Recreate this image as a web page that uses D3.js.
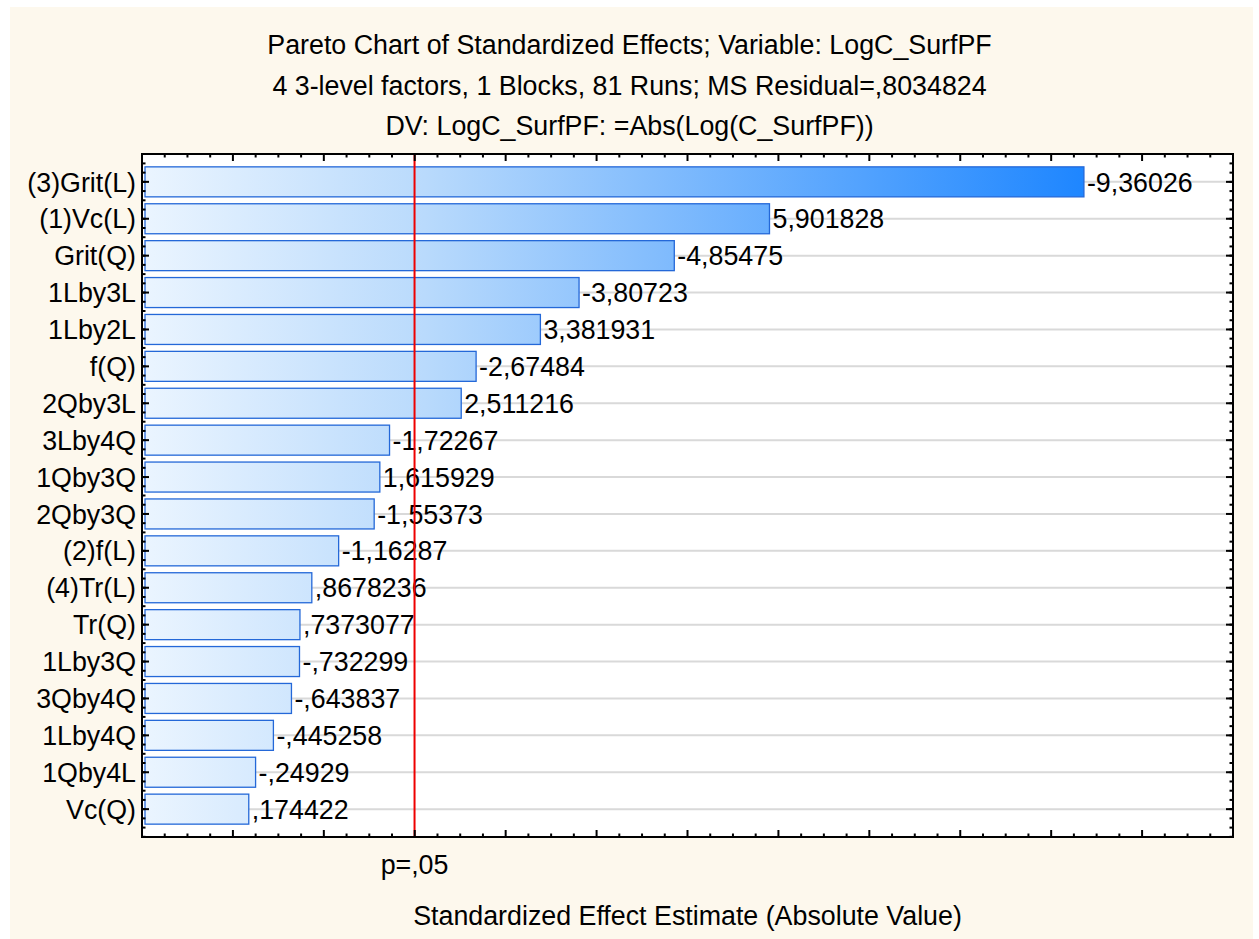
<!DOCTYPE html>
<html><head><meta charset="utf-8">
<script src="https://cdn.jsdelivr.net/npm/d3@7"></script>
<style>body{margin:0;background:#fff}svg{display:block}text{font-family:"Liberation Sans",Arial,sans-serif;fill:#000}</style>
</head><body>
<script>
const titleLines = [
  "Pareto Chart of Standardized Effects; Variable: LogC_SurfPF",
  "4 3-level factors, 1 Blocks, 81 Runs; MS Residual=,8034824",
  "DV: LogC_SurfPF: =Abs(Log(C_SurfPF))"
];
const categories = ["(3)Grit(L)","(1)Vc(L)","Grit(Q)","1Lby3L","1Lby2L","f(Q)","2Qby3L","3Lby4Q","1Qby3Q","2Qby3Q","(2)f(L)","(4)Tr(L)","Tr(Q)","1Lby3Q","3Qby4Q","1Lby4Q","1Qby4L","Vc(Q)"];
const effects = [9.36026,5.901828,4.85475,3.80723,3.381931,2.67484,2.511216,1.72267,1.615929,1.55373,1.16287,0.8678236,0.7373077,0.732299,0.643837,0.445258,0.24929,0.174422];
const effectLabels = ["-9,36026","5,901828","-4,85475","-3,80723","3,381931","-2,67484","2,511216","-1,72267","1,615929","-1,55373","-1,16287",",8678236",",7373077","-,732299","-,643837","-,445258","-,24929",",174422"];
const xDomain = [-1, 11];
const pCrit = 1.9977;
const pLabel = "p=,05";
const xTitle = "Standardized Effect Estimate (Absolute Value)";

const W = 1259, H = 939;
const L = 142, R = 1233, T = 154, B = 837;
const FS = 26.8;

const svg = d3.select("body").append("svg").attr("width", W).attr("height", H);
svg.append("rect").attr("x",10).attr("y",7).attr("width",1243).attr("height",H-7).attr("fill","#fdf8ed");

const x = d3.scaleLinear().domain(xDomain).range([L, R]);
const y = d3.scalePoint().domain(categories).range([T, B]).padding(0.755);
const step = y.step();

const defs = svg.append("defs");
const grad = defs.append("linearGradient").attr("id","barGrad").attr("gradientUnits","userSpaceOnUse")
  .attr("x1", x(xDomain[0])).attr("x2", x(d3.max(effects))).attr("y1",0).attr("y2",0);
grad.append("stop").attr("offset","0").attr("stop-color","#ebf5ff");
grad.append("stop").attr("offset","0.3").attr("stop-color","#b9dafc");
grad.append("stop").attr("offset","1").attr("stop-color","#1e86ff");

// titles
titleLines.forEach((t,i)=>{
  svg.append("text").attr("x", W/2).attr("y", 54 + i*40.5).attr("text-anchor","middle").attr("font-size",FS).text(t);
});

// plot bg
svg.append("rect").attr("x",L).attr("y",T).attr("width",R-L).attr("height",B-T).attr("fill","#fff");

// grid lines
svg.append("g").selectAll("line").data(categories).join("line")
  .attr("x1",L).attr("x2",R).attr("y1",d=>y(d)).attr("y2",d=>y(d))
  .attr("stroke","#d9d9d9").attr("stroke-width",2);

const bh = 30;
const data = categories.map((c,i)=>({c, v:effects[i], lab:effectLabels[i]}));
svg.append("g").selectAll("rect").data(data).join("rect")
  .attr("x", x(xDomain[0]) + 3).attr("y", d=>y(d.c)-bh/2)
  .attr("width", d=>x(d.v) - x(xDomain[0]) - 3).attr("height", bh)
  .attr("fill","url(#barGrad)").attr("stroke","#2468d8").attr("stroke-width",1.3);

svg.append("g").selectAll("text").data(data).join("text")
  .attr("x", d=>x(d.v)+3).attr("y", d=>y(d.c)).attr("dy","0.36em")
  .attr("font-size",FS).text(d=>d.lab);

// p line
svg.append("line").attr("x1",x(pCrit)).attr("x2",x(pCrit)).attr("y1",T).attr("y2",B)
  .attr("stroke","#ee0000").attr("stroke-width",2);

// axes ticks (inward)
const majorX = d3.range(xDomain[0], xDomain[1]+0.001, 1);
const minorX = d3.range(xDomain[0], xDomain[1]+0.001, 0.25).filter(v=>Math.abs(v-Math.round(v))>1e-6);
const gx = svg.append("g").attr("stroke","#000");
[[B,-1],[T,1]].forEach(([yy,dir])=>{
  gx.append("g").selectAll("line").data(majorX).join("line")
    .attr("x1",d=>x(d)).attr("x2",d=>x(d)).attr("y1",yy).attr("y2",yy+dir*7).attr("stroke-width",2);
  gx.append("g").selectAll("line").data(minorX).join("line")
    .attr("x1",d=>x(d)).attr("x2",d=>x(d)).attr("y1",yy).attr("y2",yy+dir*3.5).attr("stroke-width",2);
});
const yMinor = [];
for (let v = y(categories[0]) - step; v < B; v += step/4) {
  if (v > T + 0.5) yMinor.push(v);
}
[[L,1],[R,-1]].forEach(([xx,dir])=>{
  gx.append("g").selectAll("line").data(categories).join("line")
    .attr("y1",d=>y(d)).attr("y2",d=>y(d)).attr("x1",xx).attr("x2",xx+dir*7).attr("stroke-width",2);
  gx.append("g").selectAll("line").data(yMinor).join("line")
    .attr("y1",d=>d).attr("y2",d=>d).attr("x1",xx).attr("x2",xx+dir*3.5).attr("stroke-width",2);
});

// frame
svg.append("rect").attr("x",L).attr("y",T).attr("width",R-L).attr("height",B-T)
  .attr("fill","none").attr("stroke","#000").attr("stroke-width",2);

// category labels
svg.append("g").selectAll("text").data(categories).join("text")
  .attr("x", L-6).attr("y", d=>y(d)).attr("dy","0.36em").attr("text-anchor","end")
  .attr("font-size",FS).text(d=>d);

svg.append("text").attr("x", x(pCrit)).attr("y", 874).attr("text-anchor","middle").attr("font-size",FS).text(pLabel);
svg.append("text").attr("x", (L+R)/2).attr("y", 925).attr("text-anchor","middle").attr("font-size",FS).text(xTitle);
</script>
</body></html>
